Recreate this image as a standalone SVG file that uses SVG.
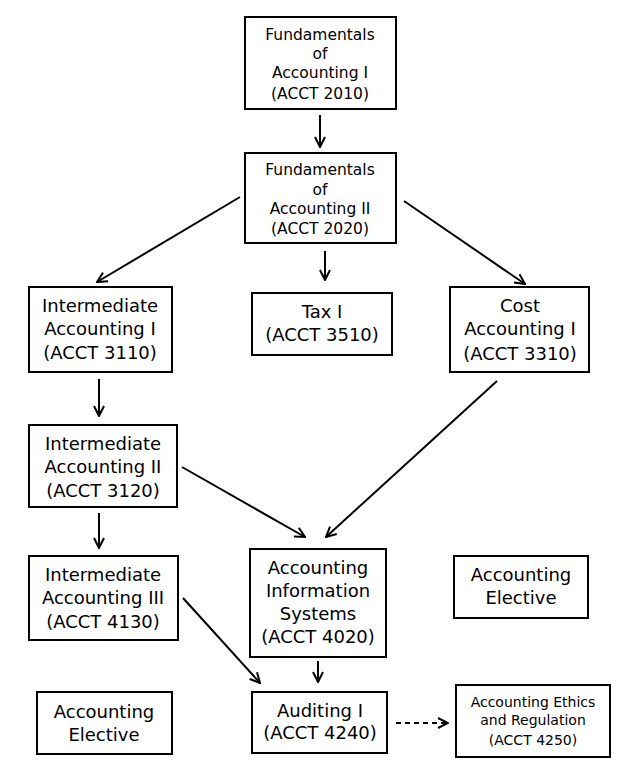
<svg xmlns="http://www.w3.org/2000/svg" width="642" height="771" viewBox="0 0 642 771">
<defs>
<style>
.box{fill:#fff;stroke:#000;stroke-width:2}
text{font-family:"DejaVu Sans","Liberation Sans",sans-serif;text-anchor:middle;fill:#000}
.s{font-size:15.5px}
.m{font-size:18px}
.e{font-size:14px}
.c{stroke:#000;stroke-width:2;fill:none;marker-end:url(#ah)}
.d{stroke-dasharray:5 4}
</style>
<marker id="ah" viewBox="0 0 12 12" refX="11" refY="6" markerWidth="12" markerHeight="12" markerUnits="userSpaceOnUse" orient="auto">
<path d="M1,1 L11,6 L1,11" fill="none" stroke="#000" stroke-width="2"/>
</marker>
</defs>
<rect width="642" height="771" fill="#fff"/>
<g id="connectors">
<line class="c" x1="320" y1="115" x2="320" y2="147"/>
<line class="c" x1="240" y1="197" x2="97" y2="282"/>
<line class="c" x1="325" y1="251" x2="325" y2="280"/>
<line class="c" x1="404" y1="201" x2="525" y2="284"/>
<line class="c" x1="99" y1="379" x2="99" y2="416"/>
<line class="c" x1="99" y1="513" x2="99" y2="548"/>
<line class="c" x1="182" y1="467" x2="305" y2="537"/>
<line class="c" x1="497" y1="381" x2="326" y2="537"/>
<line class="c" x1="318" y1="661" x2="318" y2="682"/>
<line class="c" x1="183" y1="598" x2="260" y2="683"/>
<line class="c d" x1="396" y1="723" x2="448" y2="723"/>
</g>
<g id="fund1"><rect class="box" x="245" y="17" width="151" height="92"/>
<text class="s" x="320" y="40">Fundamentals</text><text class="s" x="320" y="59">of</text><text class="s" x="320" y="78">Accounting I</text><text class="s" x="320" y="99">(ACCT 2010)</text></g>
<g id="fund2"><rect class="box" x="245" y="153" width="151" height="90"/>
<text class="s" x="320" y="175">Fundamentals</text><text class="s" x="320" y="195">of</text><text class="s" x="320" y="214">Accounting II</text><text class="s" x="320" y="234">(ACCT 2020)</text></g>
<g id="int1"><rect class="box" x="29" y="287" width="143" height="85"/>
<text class="m" x="100" y="312">Intermediate</text><text class="m" x="100" y="335">Accounting I</text><text class="m" x="100" y="359">(ACCT 3110)</text></g>
<g id="tax1"><rect class="box" x="252" y="293" width="140" height="62"/>
<text class="m" x="322" y="318">Tax I</text><text class="m" x="322" y="341">(ACCT 3510)</text></g>
<g id="cost1"><rect class="box" x="450" y="287" width="139" height="85"/>
<text class="m" x="520" y="312">Cost</text><text class="m" x="520" y="335">Accounting I</text><text class="m" x="520" y="360">(ACCT 3310)</text></g>
<g id="int2"><rect class="box" x="29" y="425" width="148" height="82"/>
<text class="m" x="103" y="450">Intermediate</text><text class="m" x="103" y="473">Accounting II</text><text class="m" x="103" y="497">(ACCT 3120)</text></g>
<g id="int3"><rect class="box" x="29" y="556" width="149" height="84"/>
<text class="m" x="103" y="581">Intermediate</text><text class="m" x="103" y="604">Accounting III</text><text class="m" x="103" y="628">(ACCT 4130)</text></g>
<g id="ais"><rect class="box" x="250" y="549" width="136" height="108"/>
<text class="m" x="318" y="574">Accounting</text><text class="m" x="318" y="597">Information</text><text class="m" x="318" y="620">Systems</text><text class="m" x="318" y="643">(ACCT 4020)</text></g>
<g id="elective-right"><rect class="box" x="454" y="556" width="134" height="62"/>
<text class="m" x="521" y="581">Accounting</text><text class="m" x="521" y="604">Elective</text></g>
<g id="elective-left"><rect class="box" x="37" y="692" width="135" height="62"/>
<text class="m" x="104" y="718">Accounting</text><text class="m" x="104" y="741">Elective</text></g>
<g id="audit1"><rect class="box" x="252" y="692" width="135" height="61"/>
<text class="m" x="320" y="717">Auditing I</text><text class="m" x="320" y="739">(ACCT 4240)</text></g>
<g id="ethics"><rect class="box" x="456" y="685" width="154" height="72"/>
<text class="e" x="533" y="707">Accounting Ethics</text><text class="e" x="533" y="725">and Regulation</text><text class="e" x="533" y="745">(ACCT 4250)</text></g>
</svg>
